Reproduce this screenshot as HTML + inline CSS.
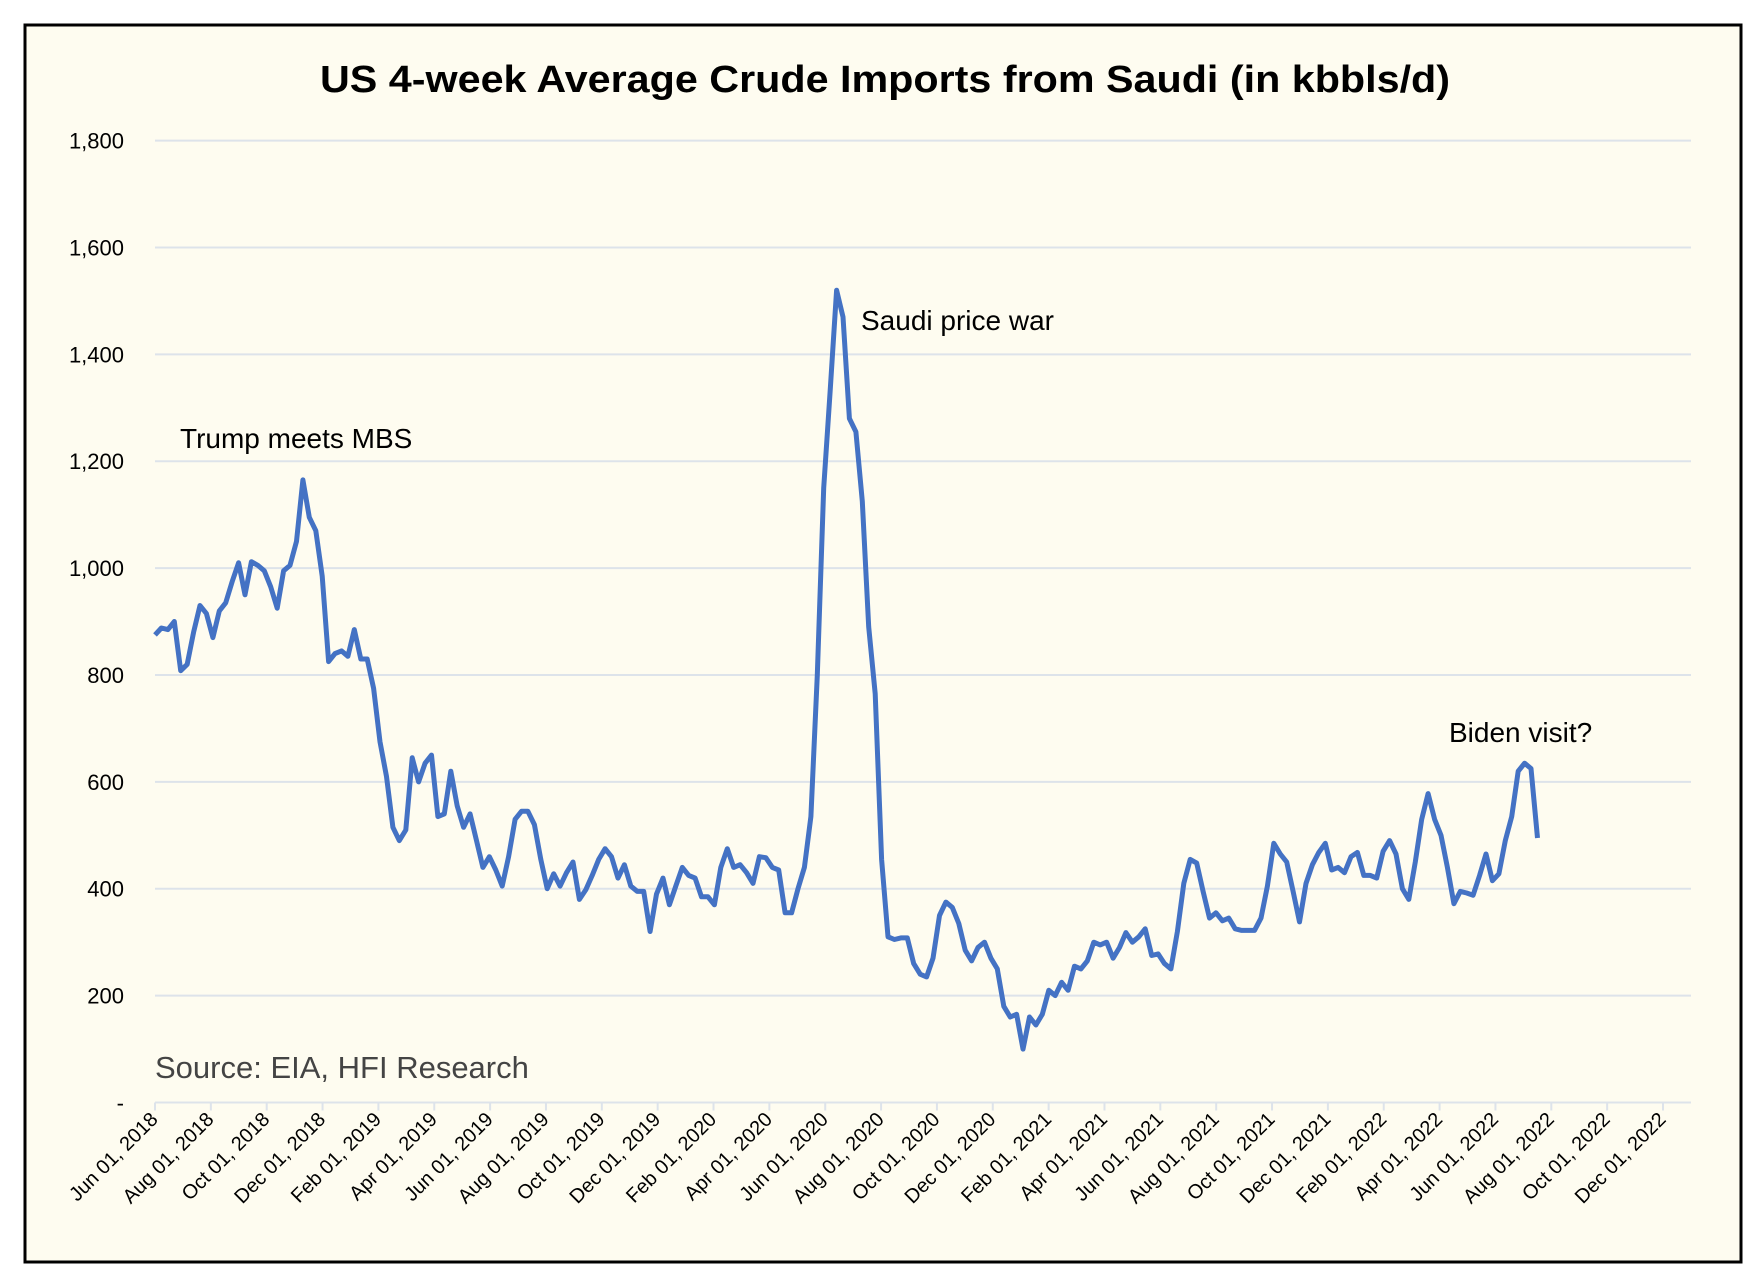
<!DOCTYPE html>
<html><head><meta charset="utf-8">
<style>
html,body{margin:0;padding:0;background:#fff;}
svg{display:block;font-family:"Liberation Sans",sans-serif;}
</style></head>
<body>
<svg id="chart" width="1764" height="1278" viewBox="0 0 1764 1278">
<rect x="25" y="25" width="1716" height="1237" fill="#fefcf0" stroke="#000" stroke-width="3"/>
<text x="885" y="92" text-anchor="middle" font-size="38" font-weight="bold" fill="#000" textLength="1130" lengthAdjust="spacingAndGlyphs">US 4-week Average Crude Imports from Saudi (in kbbls/d)</text>
<g id="grid"></g><g id="yticks"></g><g id="xticks"></g>
<path id="line" fill="none" stroke="#4472c4" stroke-width="5" stroke-linejoin="round"/>
<text x="180" y="448" font-size="28" fill="#000">Trump meets MBS</text>
<text x="861" y="330" font-size="28" fill="#000">Saudi price war</text>
<text x="1449" y="742" font-size="28" fill="#000">Biden visit?</text>
<text x="155" y="1078" font-size="31" fill="#444">Source: EIA, HFI Research</text>
</svg>
<script>
const yTickValues=[0,200,400,600,800,1000,1200,1400,1600,1800];
const yTickLabels=["-","200","400","600","800","1,000","1,200","1,400","1,600","1,800"];
const xTickLabels=["Jun 01, 2018","Aug 01, 2018","Oct 01, 2018","Dec 01, 2018","Feb 01, 2019","Apr 01, 2019","Jun 01, 2019","Aug 01, 2019","Oct 01, 2019","Dec 01, 2019","Feb 01, 2020","Apr 01, 2020","Jun 01, 2020","Aug 01, 2020","Oct 01, 2020","Dec 01, 2020","Feb 01, 2021","Apr 01, 2021","Jun 01, 2021","Aug 01, 2021","Oct 01, 2021","Dec 01, 2021","Feb 01, 2022","Apr 01, 2022","Jun 01, 2022","Aug 01, 2022","Oct 01, 2022","Dec 01, 2022"];
const imports=[875,888,885,900,808,820,880,930,915,870,920,935,975,1010,950,1012,1005,995,965,925,995,1005,1050,1165,1095,1070,985,825,840,845,835,885,830,830,775,675,610,515,490,510,645,600,635,650,535,540,620,555,515,540,490,440,460,435,405,460,530,545,545,520,455,400,428,405,430,450,380,398,425,455,475,460,420,445,405,395,395,320,390,420,370,405,440,425,420,385,385,370,440,475,440,445,430,410,460,458,440,435,355,355,400,440,535,800,1150,1330,1520,1470,1280,1255,1125,890,765,455,310,305,308,308,260,240,235,270,350,375,365,335,285,265,290,300,270,250,180,160,165,100,160,145,165,210,200,225,210,255,250,265,300,295,300,270,290,318,300,310,325,275,278,260,250,320,410,455,448,395,345,355,340,345,325,322,322,322,345,405,485,465,450,395,338,410,445,468,485,435,440,430,460,468,425,425,420,470,490,465,400,380,450,530,578,530,500,440,372,395,392,388,425,465,415,428,490,535,620,635,625,495];
const NS="http://www.w3.org/2000/svg";
const X0=155,X1=1663,Y0=1102.5,Y1=140.6,GR=1691;
function yScale(v){return Y0-(v/1800)*(Y0-Y1);}
function xTick(i){return X0+i*(X1-X0)/(xTickLabels.length-1);}
function xWeek(w){return X0+w*6.43;}
const grid=document.getElementById('grid'),yt=document.getElementById('yticks'),xt=document.getElementById('xticks');
yTickValues.forEach((v,i)=>{
  const y=yScale(v);
  if(v>0){const l=document.createElementNS(NS,'line');
  l.setAttribute('x1',X0);l.setAttribute('x2',GR);l.setAttribute('y1',y);l.setAttribute('y2',y);
  l.setAttribute('stroke','#dde3ea');l.setAttribute('stroke-width','2');
  
  
  grid.appendChild(l);}
  const t=document.createElementNS(NS,'text');
  t.setAttribute('x',124);t.setAttribute('y',y+8);t.setAttribute('text-anchor','end');
  t.setAttribute('font-size','22');t.textContent=yTickLabels[i];
  
  
  yt.appendChild(t);
});
const ax=document.createElementNS(NS,'line');
ax.setAttribute('x1',X0);ax.setAttribute('x2',GR);ax.setAttribute('y1',Y0);ax.setAttribute('y2',Y0);
ax.setAttribute('stroke','#dde3ea');ax.setAttribute('stroke-width','2');


xt.appendChild(ax);
xTickLabels.forEach((s,i)=>{
  const x=xTick(i);
  const tk=document.createElementNS(NS,'line');
  tk.setAttribute('x1',x);tk.setAttribute('x2',x);tk.setAttribute('y1',Y0);tk.setAttribute('y2',Y0+8);
  tk.setAttribute('stroke','#dde3ea');tk.setAttribute('stroke-width','2');
  
  
  xt.appendChild(tk);
  const t=document.createElementNS(NS,'text');
  t.setAttribute('transform','translate('+(x+4)+','+(Y0+18)+') rotate(-45)');
  t.setAttribute('text-anchor','end');t.setAttribute('font-size','20');t.textContent=s;
  
  
  xt.appendChild(t);
});
document.getElementById('line').setAttribute('d',imports.map((v,w)=>(w?'L':'M')+xWeek(w).toFixed(1)+','+yScale(v).toFixed(1)).join(''));
</script>
</body></html>
